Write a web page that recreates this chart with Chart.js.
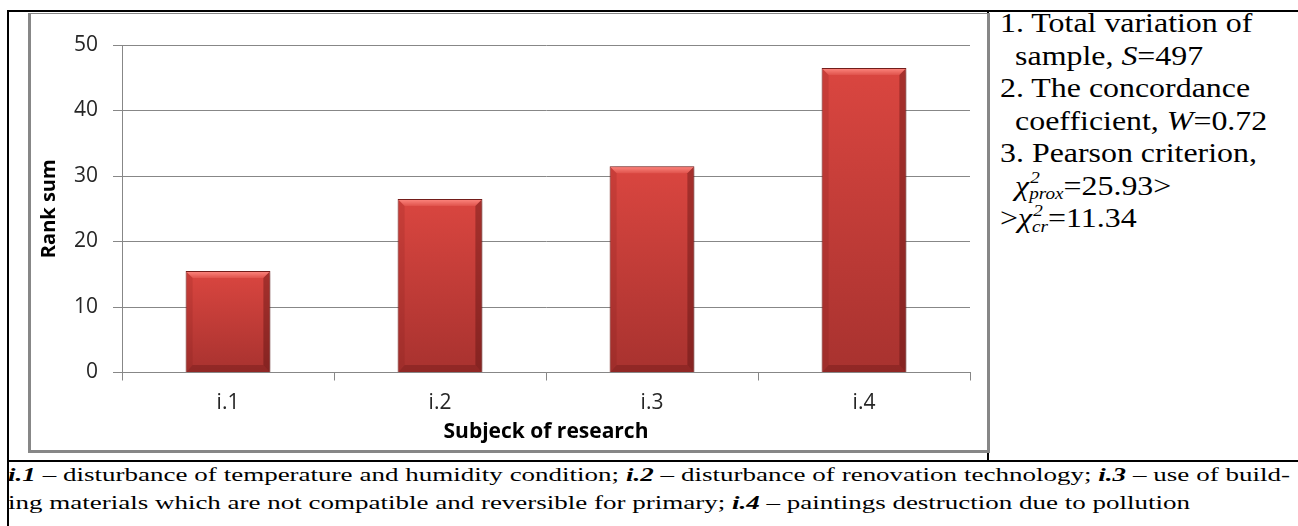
<!DOCTYPE html>
<html>
<head>
<meta charset="utf-8">
<script src="https://cdn.jsdelivr.net/npm/chart.js@4"></script>
<style>
  html, body { margin: 0; padding: 0; background: #fff; }
  #hoja { position: relative; width: 1298px; height: 526px; overflow: hidden; background: #fff; }
  .linea { position: absolute; background: #000; }
  #marco {
    position: absolute; left: 28px; top: 13px; width: 962px; height: 440px;
    box-sizing: border-box; border: 3px solid #878787; border-top-width: 1px;
  }
  #grafica { display: block; }
  #lado {
    position: absolute; left: 1000px; top: 7px;
    font-family: "Liberation Serif", "Times New Roman", serif;
    font-size: 27.5px; line-height: 32.5px; color: #000;
    transform: scaleX(1.16); transform-origin: 0 0; white-space: nowrap;
  }
  #lado .sang { padding-left: 13px; }
  .ss { display: inline-block; position: relative; font-style: italic; }
  .ss .sup { position: absolute; left: 1px; top: -0.45em; font-size: 0.6em; }
  .ss .sub { position: relative; top: 0.3em; font-size: 0.6em; line-height: 0; }
  #notas {
    position: absolute; left: 8px; top: 461px;
    font-family: "Liberation Serif", "Times New Roman", serif;
    font-size: 18.5px; line-height: 28px; color: #000;
    transform-origin: 0 0;
  }
  #notas .fila { white-space: nowrap; }
  #linea1 { text-align: justify; text-align-last: justify; }
</style>
</head>
<body>
<div id="hoja">
  <div class="linea" style="left:7px;top:10px;width:1291px;height:2px"></div>
  <div class="linea" style="left:7px;top:10px;width:2px;height:516px"></div>
  <div class="linea" style="left:987px;top:10px;width:2px;height:452px"></div>
  <div class="linea" style="left:7px;top:460px;width:1291px;height:2px"></div>

  <div id="marco"><canvas id="grafica" width="956" height="436"></canvas></div>

  <div id="lado">
    <div>1. Total variation of</div>
    <div class="sang">sample, <i>S</i>=497</div>
    <div>2. The concordance</div>
    <div class="sang">coefficient, <i>W</i>=0.72</div>
    <div>3. Pearson criterion,</div>
    <div class="sang"><i>χ</i><span class="ss"><span class="sup">2</span><span class="sub">prox</span></span>=25.93&gt;</div>
    <div>&gt;<i>χ</i><span class="ss"><span class="sup">2</span><span class="sub">cr</span></span>=11.34</div>
  </div>

  <div id="notas">
    <div class="fila" id="linea1"><span id="txt1"><b><i>i.1</i></b> – disturbance of temperature and humidity condition; <b><i>i.2</i></b> – disturbance of renovation technology; <b><i>i.3</i></b> – use of build-</span></div>
    <div class="fila" id="linea2"><span id="txt2">ing materials which are not compatible and reversible for primary; <b><i>i.4</i></b> – paintings destruction due to pollution</span></div>
  </div>
</div>

<script>
// datos
const categorias = ['i.1', 'i.2', 'i.3', 'i.4'];
const sumaRangos = [15.5, 26.5, 31.5, 46.5];
const ejeYMin = 0;
const ejeYMax = 50;
const ejeYPaso = 10;

const gris = '#878787';
Chart.defaults.font.family = '"Open Sans", sans-serif';

// ajustar el ancho de las notas al cuadro
function ajustarNotas() {
  const notas = document.getElementById('notas');
  const w1 = document.getElementById('txt1').getBoundingClientRect().width;
  const w2 = document.getElementById('txt2').getBoundingClientRect().width;
  let k = 1182 / w2;
  if (w1 * k > 1282) k = 1282 / w1;
  document.getElementById('linea1').style.width = (1282 / k) + 'px';
  notas.style.transform = 'scaleX(' + k + ')';
}
ajustarNotas();

// relieve de las barras (estilo Excel)
const biselBarras = {
  id: 'biselBarras',
  beforeDatasetsDraw(chart) {
    const ctx = chart.ctx;
    ctx.save();
    ctx.shadowColor = 'rgba(0,0,0,0.3)';
    ctx.shadowBlur = 5;
    ctx.shadowOffsetX = 2;
    ctx.shadowOffsetY = 1;
  },
  afterDatasetsDraw(chart) {
    const ctx = chart.ctx;
    ctx.restore();
    chart.getDatasetMeta(0).data.forEach(barra => {
      const { x, y, base, width } = barra.getProps(['x', 'y', 'base', 'width'], true);
      const izq = x - width / 2, der = x + width / 2, b = 7;

      // franja superior clara
      const g = ctx.createLinearGradient(0, y, 0, y + b);
      g.addColorStop(0, '#ff8a82');
      g.addColorStop(1, '#e0534c');
      ctx.fillStyle = g;
      ctx.beginPath();
      ctx.moveTo(izq + 1, y + 1);
      ctx.lineTo(der - 1, y + 1);
      ctx.lineTo(der - b, y + b);
      ctx.lineTo(izq + b, y + b);
      ctx.closePath();
      ctx.fill();

      // lado izquierdo
      ctx.fillStyle = 'rgba(110,20,20,0.15)';
      ctx.beginPath();
      ctx.moveTo(izq + 1, y + 1);
      ctx.lineTo(izq + b, y + b);
      ctx.lineTo(izq + b, base - b);
      ctx.lineTo(izq + 1, base);
      ctx.closePath();
      ctx.fill();

      // lado derecho mas oscuro
      ctx.fillStyle = 'rgba(70,10,10,0.35)';
      ctx.beginPath();
      ctx.moveTo(der - 1, y + 1);
      ctx.lineTo(der - b, y + b);
      ctx.lineTo(der - b, base - b);
      ctx.lineTo(der - 1, base);
      ctx.closePath();
      ctx.fill();

      // base
      ctx.fillStyle = 'rgba(90,15,15,0.3)';
      ctx.beginPath();
      ctx.moveTo(izq + 1, base);
      ctx.lineTo(izq + b, base - b);
      ctx.lineTo(der - b, base - b);
      ctx.lineTo(der - 1, base);
      ctx.closePath();
      ctx.fill();
    });
  }
};

const ctx = document.getElementById('grafica').getContext('2d');
new Chart(ctx, {
  type: 'bar',
  data: {
    labels: categorias,
    datasets: [{
      label: 'Rank sum',
      data: sumaRangos,
      backgroundColor: (c) => {
        const { chart, dataIndex } = c;
        const escY = chart.scales.y;
        if (!escY || dataIndex === undefined) return '#c83c38';
        const arriba = escY.getPixelForValue(sumaRangos[dataIndex]);
        const abajo = escY.getPixelForValue(ejeYMin);
        if (!isFinite(arriba) || !isFinite(abajo)) return '#c83c38';
        const g = chart.ctx.createLinearGradient(0, arriba, 0, abajo);
        g.addColorStop(0, '#da4640');
        g.addColorStop(1, '#a8322f');
        return g;
      },
      borderColor: '#7a1f1c',
      borderWidth: 1,
      barPercentage: 0.4,
      categoryPercentage: 1
    }]
  },
  options: {
    responsive: false,
    animation: false,
    devicePixelRatio: 1,
    layout: { padding: { left: 0, top: 31, right: 17, bottom: 0 } },
    plugins: {
      legend: { display: false },
      tooltip: { enabled: false }
    },
    scales: {
      x: {
        afterFit: (s) => { s.height = 77.5; },
        grid: { display: true, drawOnChartArea: false, drawTicks: true, tickLength: 8, offset: true, color: gris },
        border: { color: gris, width: 1 },
        ticks: { color: '#262626', font: { size: 21 }, padding: 10 },
        title: { display: true, text: 'Subjeck of research', color: '#000', font: { size: 21, weight: 'bold' }, padding: { top: 0, bottom: 5 } }
      },
      y: {
        min: ejeYMin,
        max: ejeYMax,
        afterFit: (s) => { s.width = 91; },
        grid: { color: gris, tickLength: 9 },
        border: { color: gris, width: 1 },
        ticks: { stepSize: ejeYPaso, color: '#262626', font: { size: 21 }, padding: 15 },
        title: { display: true, text: 'Rank sum', color: '#000', font: { size: 20, weight: 'bold' }, padding: { top: 6, bottom: 0 } }
      }
    }
  },
  plugins: [biselBarras]
});
</script>
</body>
</html>
